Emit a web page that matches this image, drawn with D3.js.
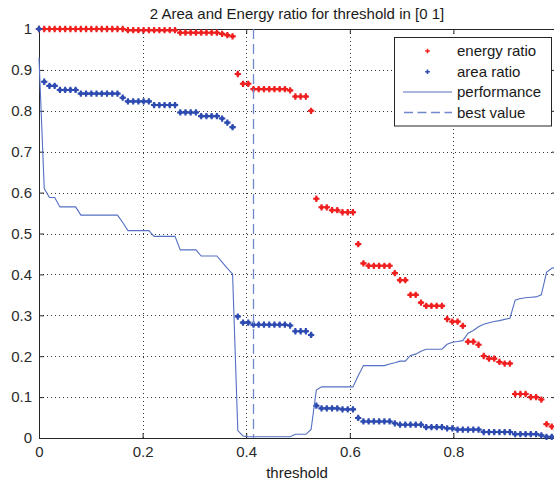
<!DOCTYPE html>
<html>
<head>
<meta charset="utf-8">
<script src="https://cdn.jsdelivr.net/npm/d3@7"></script>
<style>
  html, body { margin: 0; padding: 0; background: #fff; }
  svg { display: block; }
  text { font-family: "Liberation Sans", Arial, Helvetica, sans-serif; }
</style>
</head>
<body>
<svg id="chart" width="554" height="485"></svg>
<script>
// ---------------- data ----------------
const thresholds = [
  0, 0.0101, 0.0202, 0.0303, 0.0404, 0.0505, 0.0606, 0.0707, 0.0808, 0.0909,
  0.1010, 0.1111, 0.1212, 0.1313, 0.1414, 0.1515, 0.1616, 0.1717, 0.1818, 0.1919,
  0.2020, 0.2121, 0.2222, 0.2323, 0.2424, 0.2525, 0.2626, 0.2727, 0.2828, 0.2929,
  0.3030, 0.3131, 0.3232, 0.3333, 0.3434, 0.3535, 0.3636, 0.3737, 0.3838, 0.3939,
  0.4040, 0.4141, 0.4242, 0.4343, 0.4444, 0.4545, 0.4646, 0.4747, 0.4848, 0.4949,
  0.5051, 0.5152, 0.5253, 0.5354, 0.5455, 0.5556, 0.5657, 0.5758, 0.5859, 0.5960,
  0.6061, 0.6162, 0.6263, 0.6364, 0.6465, 0.6566, 0.6667, 0.6768, 0.6869, 0.6970,
  0.7071, 0.7172, 0.7273, 0.7374, 0.7475, 0.7576, 0.7677, 0.7778, 0.7879, 0.7980,
  0.8081, 0.8182, 0.8283, 0.8384, 0.8485, 0.8586, 0.8687, 0.8788, 0.8889, 0.8990,
  0.9091, 0.9192, 0.9293, 0.9394, 0.9495, 0.9596, 0.9697, 0.9798, 0.9899, 1.0
];

const energyRatio = [
  1, 1, 1, 1, 1, 1, 1, 1, 1, 1,
  1, 1, 1, 1, 1, 1, 1, 0.997, 0.997, 0.997,
  0.997, 0.997, 0.997, 0.997, 0.997, 0.997, 0.997, 0.991, 0.991, 0.991,
  0.991, 0.991, 0.991, 0.991, 0.991, 0.988, 0.985, 0.982, 0.89, 0.866,
  0.866, 0.853, 0.853, 0.853, 0.853, 0.853, 0.853, 0.853, 0.85, 0.835,
  0.835, 0.835, 0.8, 0.585, 0.564, 0.564, 0.557, 0.557, 0.552, 0.552,
  0.552, 0.474, 0.427, 0.421, 0.421, 0.421, 0.421, 0.421, 0.403, 0.386,
  0.386, 0.35, 0.35, 0.331, 0.323, 0.323, 0.323, 0.323, 0.291, 0.2845,
  0.2845, 0.274, 0.2355, 0.2355, 0.228, 0.2005, 0.194, 0.194, 0.186, 0.182,
  0.182, 0.1076, 0.1076, 0.1076, 0.1, 0.1, 0.094, 0.034, 0.028, 0.02
];

const areaRatio = [
  1, 0.871, 0.861, 0.861, 0.851, 0.851, 0.851, 0.851, 0.842, 0.842,
  0.842, 0.842, 0.842, 0.842, 0.842, 0.842, 0.832, 0.823, 0.823, 0.823,
  0.823, 0.823, 0.814, 0.814, 0.814, 0.814, 0.814, 0.796, 0.796, 0.796,
  0.796, 0.787, 0.787, 0.787, 0.787, 0.781, 0.771, 0.76, 0.297, 0.282,
  0.282, 0.277, 0.277, 0.277, 0.277, 0.277, 0.277, 0.277, 0.275, 0.261,
  0.261, 0.261, 0.252, 0.079, 0.0725, 0.0725, 0.0725, 0.0725, 0.07, 0.07,
  0.07, 0.049, 0.0405, 0.0405, 0.0405, 0.0405, 0.0405, 0.0405, 0.036, 0.0325,
  0.0325, 0.0325, 0.0325, 0.0325, 0.0265, 0.0265, 0.0265, 0.0265, 0.0236, 0.0236,
  0.0205, 0.0205, 0.0205, 0.0205, 0.0205, 0.0145, 0.0145, 0.0145, 0.0145, 0.0145,
  0.0145, 0.0095, 0.0095, 0.0095, 0.0095, 0.0095, 0.0065, 0.003, 0.003, 0
];

const performance = [
  0.93, 0.61, 0.588, 0.588, 0.565, 0.565, 0.565, 0.565, 0.545, 0.545,
  0.545, 0.545, 0.545, 0.545, 0.545, 0.545, 0.527, 0.507, 0.507, 0.507,
  0.507, 0.507, 0.493, 0.493, 0.493, 0.493, 0.493, 0.46, 0.46, 0.46,
  0.46, 0.445, 0.445, 0.445, 0.445, 0.43, 0.415, 0.401, 0.018, 0.005,
  0.003, 0.003, 0.003, 0.003, 0.003, 0.003, 0.003, 0.003, 0.003, 0.009,
  0.009, 0.009, 0.021, 0.117, 0.125, 0.125, 0.125, 0.125, 0.125, 0.125,
  0.125, 0.152, 0.177, 0.177, 0.177, 0.177, 0.177, 0.181, 0.184, 0.188,
  0.188, 0.202, 0.205, 0.212, 0.217, 0.217, 0.217, 0.217, 0.229, 0.234,
  0.236, 0.238, 0.256, 0.263, 0.272, 0.278, 0.282, 0.285, 0.287, 0.29,
  0.293, 0.337, 0.341, 0.343, 0.344, 0.345, 0.35, 0.405, 0.415, 0.417
];

const bestValue = 0.4141;

const xTicks = [0, 0.2, 0.4, 0.6, 0.8];
const yTicks = [0, 0.1, 0.2, 0.3, 0.4, 0.5, 0.6, 0.7, 0.8, 0.9, 1];
const xTickLabels = ["0", "0.2", "0.4", "0.6", "0.8"];
const yTickLabels = ["0", "0.1", "0.2", "0.3", "0.4", "0.5", "0.6", "0.7", "0.8", "0.9", "1"];

const titleText = "2 Area and Energy ratio for threshold in [0 1]";
const xLabelText = "threshold";
const legendLabels = ["energy ratio", "area ratio", "performance", "best value"];

// ---------------- layout ----------------
const L = 39, R = 557, T = 29, B = 438;
const svg = d3.select("#chart");
const x = d3.scaleLinear().domain([0, 1]).range([L, R]);
const y = d3.scaleLinear().domain([0, 1]).range([B, T]);

const RED = "#f02020", BLUE = "#2d4bb0", LINE = "#5570c4", DASH = "#7088cc";
const AX = "#262626";
const FONT = 15;

svg.append("rect").attr("x", 0).attr("y", 0).attr("width", 554).attr("height", 485).attr("fill", "#fff");

// grid
const grid = svg.append("g").attr("stroke", "#333").attr("stroke-width", 1).attr("stroke-dasharray", "1,3").attr("shape-rendering", "crispEdges");
grid.selectAll("line.v").data(xTicks.slice(1)).join("line")
  .attr("x1", d => Math.round(x(d)) + 0.5).attr("x2", d => Math.round(x(d)) + 0.5)
  .attr("y1", T).attr("y2", B);
grid.selectAll("line.h").data(yTicks.slice(1, -1)).join("line")
  .attr("y1", d => Math.round(y(d)) + 0.5).attr("y2", d => Math.round(y(d)) + 0.5)
  .attr("x1", L).attr("x2", R);

// axes
const xAxis = svg.append("g").attr("transform", `translate(0,${B})`)
  .call(d3.axisBottom(x).tickValues(xTicks).tickFormat((d, i) => xTickLabels[i]).tickSizeInner(-5).tickSizeOuter(0).tickPadding(8));
const xAxisTop = svg.append("g").attr("transform", `translate(0,${T})`)
  .call(d3.axisTop(x).tickValues(xTicks).tickFormat("").tickSizeInner(-5).tickSizeOuter(0));
const yAxis = svg.append("g").attr("transform", `translate(${L},0)`)
  .call(d3.axisLeft(y).tickValues(yTicks).tickFormat((d, i) => yTickLabels[i]).tickSizeInner(-5).tickSizeOuter(0).tickPadding(7));
const yAxisRight = svg.append("g").attr("transform", `translate(${R},0)`)
  .call(d3.axisRight(y).tickValues(yTicks).tickFormat("").tickSizeInner(-5).tickSizeOuter(0));

[xAxis, xAxisTop, yAxis, yAxisRight].forEach(g => {
  g.attr("font-size", FONT).attr("font-family", null);
  g.selectAll("path.domain").attr("stroke", AX);
  g.selectAll(".tick line").attr("stroke", AX);
  g.selectAll("text").attr("fill", "#2a2a2a");
});

// box
svg.append("rect").attr("x", L + 0.5).attr("y", T + 0.5).attr("width", R - L).attr("height", B - T)
  .attr("fill", "none").attr("stroke", AX).attr("stroke-width", 1);

// data marks
const pts = thresholds.map((t, i) => ({ t, e: energyRatio[i], a: areaRatio[i], p: performance[i] }));
const cross = d3.symbol().type(d3.symbolCross).size(22);

function markers(key, color) {
  const g = svg.append("g").attr("fill", color);
  g.selectAll("circle").data(pts).join("circle")
    .attr("cx", d => x(d.t)).attr("cy", d => y(d[key])).attr("r", 2.1);
  g.selectAll("path").data(pts).join("path")
    .attr("d", cross)
    .attr("transform", d => `translate(${x(d.t)},${y(d[key])})`);
}
markers("e", RED);
markers("a", BLUE);

svg.append("path").datum(pts)
  .attr("d", d3.line().x(d => x(d.t)).y(d => y(d.p)))
  .attr("fill", "none").attr("stroke", LINE).attr("stroke-width", 1.1);

svg.append("line")
  .attr("x1", x(bestValue)).attr("x2", x(bestValue))
  .attr("y1", T).attr("y2", B)
  .attr("stroke", DASH).attr("stroke-width", 1.3).attr("stroke-dasharray", "10,5");

// title & label
svg.append("text").attr("x", 297).attr("y", 18.5).attr("text-anchor", "middle")
  .attr("font-size", FONT).attr("fill", "#1a1a1a").text(titleText);
svg.append("text").attr("x", 297).attr("y", 478).attr("text-anchor", "middle")
  .attr("font-size", FONT).attr("fill", "#1a1a1a").text(xLabelText);

// legend
const lg = svg.append("g");
lg.append("rect").attr("x", 394.5).attr("y", 37.5).attr("width", 157).attr("height", 88.5)
  .attr("fill", "#fff").attr("stroke", AX).attr("stroke-width", 1);
const rowY = [51, 71.7, 92, 112.5];
const legSym = d3.symbol().type(d3.symbolCross).size(12);
lg.append("path").attr("d", legSym).attr("transform", `translate(427.5,${rowY[0]})`).attr("fill", RED);
lg.append("path").attr("d", legSym).attr("transform", `translate(427.5,${rowY[1]})`).attr("fill", BLUE);
lg.append("line").attr("x1", 403).attr("x2", 452).attr("y1", rowY[2]).attr("y2", rowY[2])
  .attr("stroke", LINE).attr("stroke-width", 1.1);
lg.append("line").attr("x1", 404).attr("x2", 452).attr("y1", rowY[3]).attr("y2", rowY[3])
  .attr("stroke", DASH).attr("stroke-width", 1.3).attr("stroke-dasharray", "9,4.5");
lg.selectAll("text").data(legendLabels).join("text")
  .attr("x", 457).attr("y", (d, i) => rowY[i] + 5.3)
  .attr("font-size", FONT).attr("fill", "#1a1a1a").text(d => d);
</script>
</body>
</html>
